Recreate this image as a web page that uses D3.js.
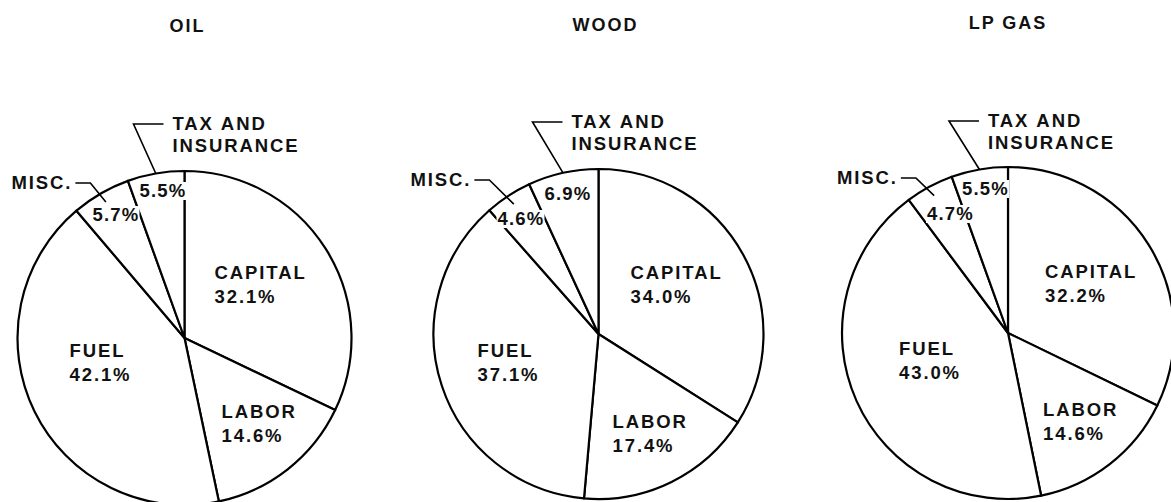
<!DOCTYPE html>
<html>
<head>
<meta charset="utf-8">
<script src="https://cdn.jsdelivr.net/npm/d3@7"></script>
<style>
  html, body { margin: 0; padding: 0; background: #fff; }
  svg { display: block; overflow: hidden; }
  text { font-family: "Liberation Sans", Arial, Helvetica, sans-serif; font-weight: bold; fill: #111; }
</style>
</head>
<body>
<script>
// cost shares by heating fuel, percent
var categories  = ["CAPITAL", "LABOR", "FUEL", "MISC.", "TAX AND INSURANCE"];
var titles      = ["OIL", "WOOD", "LP GAS"];
var oilValues   = [32.1, 14.6, 42.1, 5.7, 5.5];
var woodValues  = [34.0, 17.4, 37.1, 4.6, 6.9];
var lpGasValues = [32.2, 14.6, 43.0, 4.7, 5.5];

var W = 1171, H = 502;
var FONT_SIZE = 18.5;
var SPACING = 1.9;
var LINE_W = 2.2;

// layout: pie centre + radius, title nudge, label anchors (left, baseline) relative to centre
var pies = [
  { values: oilValues,   cx: 184.5, cy: 338, r: 167, tdx: 3, ty: 32 },
  { values: woodValues,  cx: 598.5, cy: 334, r: 165, tdx: 7, ty: 31 },
  { values: lpGasValues, cx: 1008,  cy: 333, r: 166, tdx: 0, ty: 29 }
];
// order: capital, labor, fuel, misc pct, tax pct, misc name, tax name
var labelOffsets = [
  [[30, -59], [37, 80], [-115, 19], [-92, -117], [-45, -141], [-173, -149], [-12, -208]],
  [[32, -55], [14, 94], [-121, 23], [-101, -109], [-54, -134], [-188, -148], [-27, -206]],
  [[37, -55], [35, 83], [-109, 22], [-81, -113], [-46, -138], [-171, -149], [-20, -206]]
];

var svg = d3.select('body').append('svg')
  .attr('width', W)
  .attr('height', H);

var pie = d3.pie().sort(null).value(function(d) { return d; });
var fmt = function(v) { return v.toFixed(1) + '%'; };
var polar = function(a, rr) { return [rr * Math.sin(a), -rr * Math.cos(a)]; };

pies.forEach(function(p, i) {
  // title
  svg.append('text')
    .attr('x', p.cx + p.tdx)
    .attr('y', p.ty)
    .attr('text-anchor', 'middle')
    .attr('font-size', 18)
    .attr('letter-spacing', 2)
    .text(titles[i]);

  var g = svg.append('g').attr('transform', 'translate(' + p.cx + ',' + p.cy + ')');
  var arcs = pie(p.values);
  var arc = d3.arc().innerRadius(0).outerRadius(p.r);

  g.selectAll('path')
    .data(arcs)
    .enter()
    .append('path')
    .attr('d', arc)
    .attr('fill', '#fff')
    .attr('stroke', '#000')
    .attr('stroke-width', LINE_W)
    .attr('stroke-linejoin', 'round');

  var offs = labelOffsets[i];

  // big slices: name + percent inside
  [0, 1, 2].forEach(function(k) {
    var t = g.append('text')
      .attr('x', offs[k][0])
      .attr('y', offs[k][1])
      .attr('font-size', FONT_SIZE)
      .attr('letter-spacing', SPACING);
    t.append('tspan').attr('x', offs[k][0]).text(categories[k]);
    t.append('tspan').attr('x', offs[k][0]).attr('dy', 24).text(fmt(p.values[k]));
  });

  // small slices: percent inside, on a white patch that breaks the lines
  [3, 4].forEach(function(k) {
    var o = offs[k];
    var bg = g.append('rect').attr('fill', '#fff');
    var t = g.append('text')
      .attr('x', o[0])
      .attr('y', o[1])
      .attr('font-size', FONT_SIZE)
      .attr('letter-spacing', 1.2)
      .text(fmt(p.values[k]));
    var bb = t.node().getBBox();
    bg.attr('x', bb.x - 1).attr('y', bb.y + 2)
      .attr('width', bb.width + 1).attr('height', bb.height - 3);
  });

  var leader = d3.line();

  // MISC. name with leader into slice
  var mo = offs[5];
  var misc = g.append('text')
    .attr('x', mo[0])
    .attr('y', mo[1])
    .attr('font-size', FONT_SIZE)
    .attr('letter-spacing', SPACING)
    .text(categories[3]);
  var mLen = misc.node().getComputedTextLength();
  var mArc = arcs[3];
  var mEnd = polar((mArc.startAngle + mArc.endAngle) / 2, p.r - 10);
  var mx0 = mo[0] + mLen + 3, my0 = mo[1] - 6;
  g.append('path')
    .attr('d', leader([[mx0, my0], [mx0 + 15, my0], mEnd]))
    .attr('fill', 'none')
    .attr('stroke', '#000')
    .attr('stroke-width', 1.6);

  // TAX AND / INSURANCE with leader to the rim
  var to = offs[6];
  var words = categories[4].split(' ');
  var tax = g.append('text')
    .attr('x', to[0])
    .attr('y', to[1])
    .attr('font-size', FONT_SIZE)
    .attr('letter-spacing', SPACING);
  tax.append('tspan').attr('x', to[0]).text(words[0] + '\u00a0' + words[1]);
  tax.append('tspan').attr('x', to[0]).attr('dy', 22).text(words[2]);
  var tArc = arcs[4];
  var tEnd = polar((tArc.startAngle + tArc.endAngle) / 2, p.r);
  var tx0 = to[0] - 9, ty0 = to[1] - 6;
  g.append('path')
    .attr('d', leader([[tx0, ty0], [tx0 - 30, ty0], tEnd]))
    .attr('fill', 'none')
    .attr('stroke', '#000')
    .attr('stroke-width', 1.6);
});
</script>
</body>
</html>
